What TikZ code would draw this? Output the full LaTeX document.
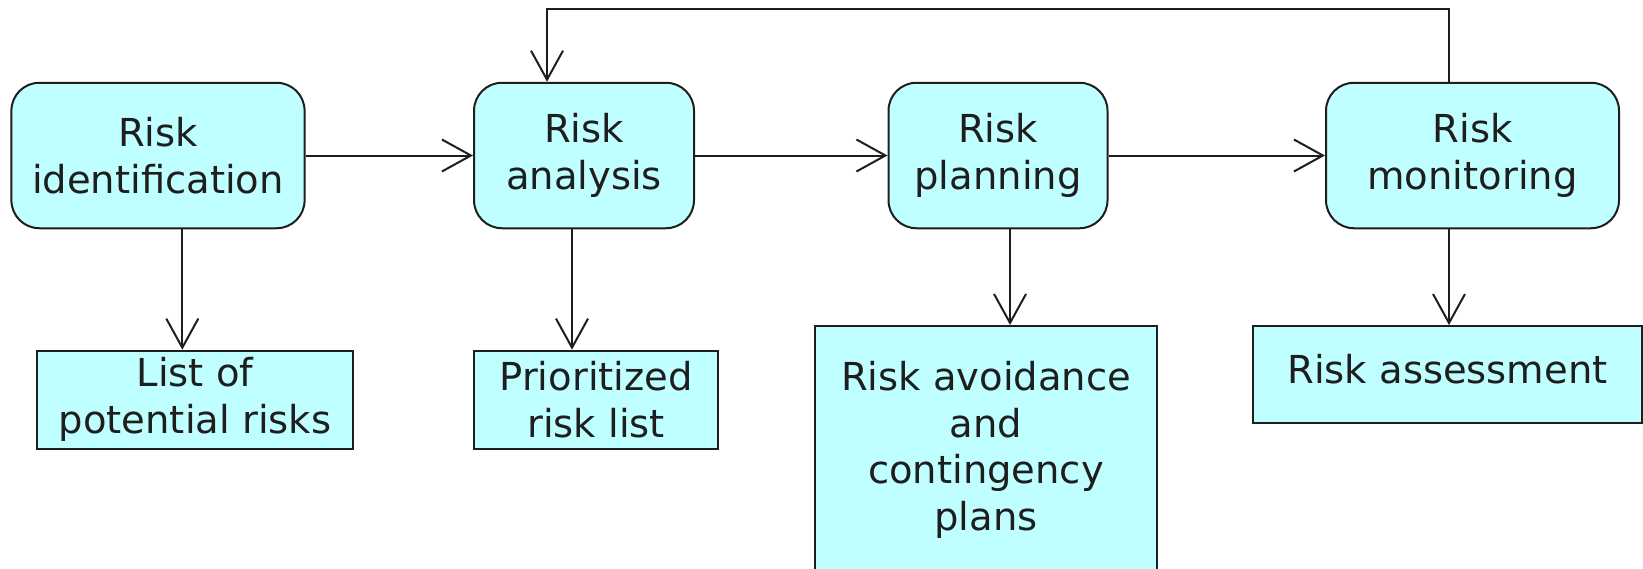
\documentclass[tikz,border=0pt]{standalone}
\usepackage{fontspec}
\setmainfont{DejaVu Sans}
\usetikzlibrary{arrows.meta}
\definecolor{boxfill}{RGB}{191,255,255}
\definecolor{edge}{RGB}{30,30,30}
\begin{document}
\begin{tikzpicture}[x=1pt,y=-1pt,
  base/.style={draw=edge, fill=boxfill, line width=2pt, inner sep=0pt, align=center, text=edge, font=\fontsize{38.5}{46.5}\selectfont},
  proc/.style={base, rounded corners=28pt, minimum height=145.5pt},
  prod/.style={base},
  arr/.style={draw=edge, line width=2pt, -{Straight Barb[length=29pt,width=32pt]}}
]
\clip (0,0) rectangle (1643,568);
% process nodes (rounded)
\node[proc, minimum width=293.2pt] (ident) at (158,155.5) {Risk\\identification};
\node[proc, minimum width=220pt] (analysis) at (584,155.5) {Risk\\analysis};
\node[proc, minimum width=219pt] (planning) at (998,155.5) {Risk\\planning};
\node[proc, minimum width=293pt] (monitoring) at (1472.5,155.5) {Risk\\monitoring};
% product nodes
\node[prod, minimum width=316.6pt, minimum height=97.8pt] (list) at (195,399.6) {List of\\potential risks};
\node[prod, minimum width=244.3pt, minimum height=97.8pt] (prio) at (596.2,399.6) {Prioritized\\risk list};
\node[prod, minimum width=341.7pt, minimum height=248pt] (avoid) at (986,450) {Risk avoidance\\and\\contingency\\plans};
\node[prod, minimum width=389pt, minimum height=97.3pt, text depth=12pt] (assess) at (1447.5,374.7) {Risk assessment};
% horizontal flow
\draw[arr] (ident.east) -- (analysis.west);
\draw[arr] (analysis.east) -- (planning.west);
\draw[arr] (planning.east) -- (monitoring.west);
% downward arrows
\coordinate (d1) at (182.3,0);
\coordinate (d2) at (572,0);
\coordinate (d3) at (1010,0);
\coordinate (d4) at (1449,0);
\draw[arr] (ident.south -| d1) -- (list.north -| d1);
\draw[arr] (analysis.south -| d2) -- (prio.north -| d2);
\draw[arr] (planning.south -| d3) -- (avoid.north -| d3);
\draw[arr] (monitoring.south -| d4) -- (assess.north -| d4);
% feedback loop
\coordinate (fbR) at (1449,9.4);
\coordinate (fbL) at (547,9.4);
\draw[arr] (monitoring.north -| fbR) -- (fbR) -- (fbL) -- (analysis.north -| fbL);
\end{tikzpicture}
\end{document}
